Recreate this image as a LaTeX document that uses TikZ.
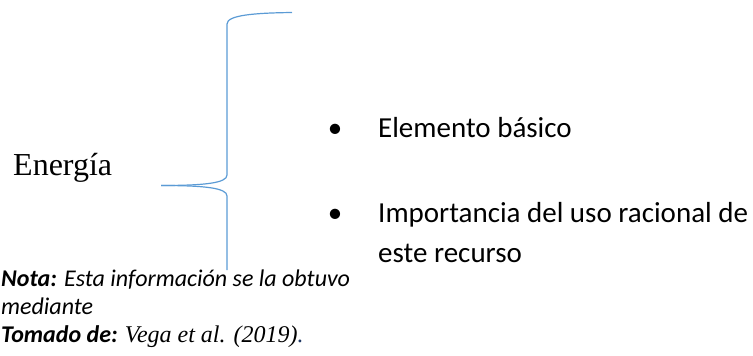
\documentclass[tikz,border=0pt]{standalone}
\usepackage{fontspec}
\setmainfont{Carlito}
\newfontfamily\timesfont{Liberation Serif}
\usepackage{tikz}
\definecolor{bracecol}{HTML}{5B9BD5}
\definecolor{dotcol}{HTML}{1F3864}
\tikzset{
    txt/.style={inner sep=0pt, anchor=base west},
    itemtxt/.style={txt, font=\fontsize{29}{35}\selectfont},
    notetxt/.style={txt, font=\fontsize{24}{28}\selectfont\itshape},
    bracepath/.style={draw=bracecol, line width=1.2pt}
}

\begin{document}
\begin{tikzpicture}[x=1pt, y=-1pt]

    \useasboundingbox (0, 0) rectangle (753, 356);

    % left label
    \node[txt, font=\fontsize{32}{37}\selectfont\timesfont] (energia) at (13, 175) {Energía};

    % brace
    \coordinate (tip) at (161, 185.5);
    \coordinate (topend) at (292, 12.5);
    \coordinate (botend) at (227, 270);
    \draw[bracepath] (topend) .. controls (255, 13) and (227, 15) .. (227, 24)
        -- (227, 175) .. controls (227, 183) and (205, 185.5) .. (tip);
    \draw[bracepath] (tip) .. controls (205, 185.5) and (227, 188) .. (227, 196)
        -- (botend);

    % items
    \node[itemtxt, anchor=base] (bullet1) at (335, 137) {•};
    \node[itemtxt] (elemento) at (378, 137) {Elemento básico};

    \node[itemtxt, anchor=base] (bullet2) at (335, 222) {•};
    \node[itemtxt] (importancia) at (378, 222) {Importancia del uso racional de};
    \node[itemtxt] (recurso) at (378, 262) {este recurso};

    % note
    \node[notetxt] (nota) at (1, 286) {\textbf{Nota:} Esta información se la obtuvo};
    \node[notetxt] (mediante) at (1, 314) {mediante};
    \node[notetxt] (tomado) at (1, 342) {\textbf{Tomado de:} {\timesfont Vega et al. (2019)\textcolor{dotcol}{.}}};

\end{tikzpicture}
\end{document}
